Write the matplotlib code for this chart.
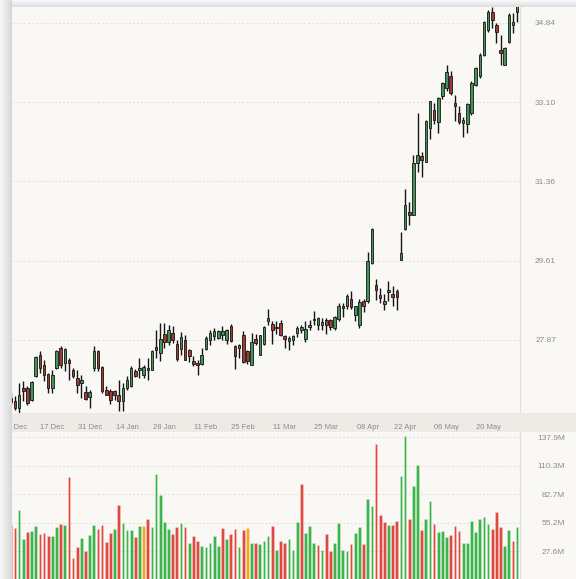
import numpy as np
import pandas as pd
import matplotlib
matplotlib.use("Agg")
import matplotlib.pyplot as plt

plt.rcParams["font.family"] = ["Liberation Sans", "DejaVu Sans"]

# NYSE trading days, 30 Nov 2018 -> 30 May 2019
holidays = ["2018-12-05", "2018-12-25", "2019-01-01", "2019-01-21",
            "2019-02-18", "2019-04-19", "2019-05-27"]
dates = pd.bdate_range("2018-11-30", "2019-05-30", freq="C", holidays=holidays)

opens = [26.60, 26.52, 26.38, 26.82, 26.82, 26.56, 27.07, 27.53, 27.31, 27.12,
         26.82, 27.26, 27.70, 27.37, 27.42, 27.20, 27.04, 26.93, 26.72, 26.62,
         27.26, 27.62, 27.27, 26.78, 26.76, 26.74, 26.67, 26.52, 26.82, 26.85,
         27.18, 27.22, 27.11, 27.26, 27.22, 27.71, 27.59, 28.01, 27.83, 28.02,
         27.79, 27.68, 27.87, 27.65, 27.41, 27.37, 27.34, 27.67, 27.88, 27.95,
         27.92, 27.99, 27.88, 28.17, 27.73, 27.70, 27.99, 27.62, 27.33, 27.89,
         27.55, 27.79, 28.28, 28.22, 28.15, 28.24, 27.95, 27.84, 27.88, 28.03,
         28.10, 27.90, 28.16, 28.33, 28.21, 28.20, 28.32, 28.31, 28.14, 28.34,
         28.61, 28.61, 28.76, 28.42, 28.21, 28.72, 28.72, 29.56, 29.08, 28.86,
         28.65, 28.92, 28.87, 28.95, 29.63, 30.31, 30.69, 30.62, 31.76, 31.92,
         31.79, 32.53, 32.92, 32.66, 33.23, 33.41, 33.66, 33.07, 32.86, 32.64,
         32.62, 32.86, 33.47, 33.66, 34.13, 34.68, 35.08, 34.79, 34.24, 33.91,
         34.42, 34.79, 35.08]
highs = [26.70, 26.63, 26.93, 26.96, 26.85, 26.96, 27.51, 27.62, 27.42, 27.15,
         27.22, 27.64, 27.73, 27.70, 27.48, 27.26, 27.20, 27.09, 26.85, 26.77,
         27.73, 27.66, 27.29, 26.85, 26.80, 26.78, 26.98, 26.93, 27.07, 27.29,
         27.23, 27.48, 27.32, 27.48, 27.64, 28.08, 28.24, 28.24, 28.19, 28.17,
         27.86, 28.04, 27.99, 27.67, 27.51, 27.44, 27.70, 27.95, 28.10, 28.13,
         28.10, 28.17, 28.11, 28.22, 27.77, 27.78, 28.06, 27.64, 28.02, 28.00,
         27.99, 28.17, 28.55, 28.28, 28.28, 28.32, 27.99, 27.95, 27.99, 28.17,
         28.21, 28.28, 28.32, 28.50, 28.37, 28.35, 28.35, 28.34, 28.39, 28.68,
         28.68, 28.87, 28.95, 28.62, 28.77, 28.76, 29.81, 30.33, 29.21, 29.01,
         28.89, 29.16, 29.05, 28.99, 30.25, 31.18, 30.91, 31.94, 32.85, 31.99,
         32.71, 33.13, 33.08, 33.20, 33.54, 33.92, 33.78, 33.25, 33.01, 32.77,
         33.08, 33.55, 33.87, 34.17, 34.88, 35.12, 35.19, 34.83, 34.57, 34.30,
         35.05, 35.05, 35.34]
lows = [26.45, 26.34, 26.27, 26.52, 26.45, 26.52, 27.06, 27.15, 26.96, 26.71,
        26.71, 27.24, 27.26, 27.18, 27.00, 27.04, 26.71, 26.60, 26.56, 26.38,
        27.18, 27.18, 26.71, 26.66, 26.47, 26.56, 26.30, 26.30, 26.78, 26.84,
        27.05, 27.04, 27.04, 27.00, 27.20, 27.48, 27.40, 27.70, 27.77, 27.81,
        27.40, 27.55, 27.42, 27.38, 27.29, 27.11, 27.31, 27.66, 27.77, 27.88,
        27.89, 27.88, 27.79, 27.82, 27.24, 27.48, 27.37, 27.35, 27.32, 27.77,
        27.53, 27.75, 28.20, 27.79, 28.01, 27.95, 27.70, 27.66, 27.77, 27.94,
        28.03, 27.82, 28.10, 28.20, 28.08, 28.09, 28.01, 28.10, 28.10, 28.29,
        28.37, 28.54, 28.55, 28.28, 28.13, 28.48, 28.68, 29.54, 28.74, 28.68,
        28.52, 28.72, 28.61, 28.52, 29.62, 30.28, 30.40, 30.61, 31.57, 31.46,
        31.77, 32.29, 32.62, 32.41, 33.17, 33.34, 33.25, 32.67, 32.62, 32.34,
        32.41, 32.81, 33.45, 33.62, 34.11, 34.64, 34.72, 34.39, 33.91, 33.90,
        34.40, 34.61, 34.86]
closes = [26.50, 26.38, 26.67, 26.74, 26.49, 26.94, 27.49, 27.26, 27.11, 26.82,
          27.11, 27.62, 27.33, 27.68, 27.37, 27.07, 26.89, 26.98, 26.58, 26.72,
          27.62, 27.26, 26.74, 26.67, 26.56, 26.67, 26.52, 26.82, 27.00, 27.26,
          27.07, 27.26, 27.27, 27.20, 27.62, 27.64, 27.89, 27.83, 28.08, 27.86,
          27.46, 27.93, 27.44, 27.51, 27.35, 27.31, 27.55, 27.92, 28.03, 28.06,
          28.06, 28.06, 28.10, 27.84, 27.51, 27.77, 27.38, 27.40, 27.82, 27.81,
          27.97, 28.16, 28.35, 28.10, 28.13, 27.99, 27.89, 27.92, 27.95, 28.14,
          28.16, 28.11, 28.21, 28.31, 28.35, 28.27, 28.19, 28.16, 28.38, 28.62,
          28.58, 28.83, 28.59, 28.61, 28.71, 28.62, 29.60, 30.31, 28.96, 28.79,
          28.72, 28.97, 28.81, 28.81, 29.78, 30.84, 30.62, 31.76, 31.94, 31.83,
          32.67, 33.11, 32.71, 33.18, 33.51, 33.76, 33.29, 33.01, 32.66, 32.71,
          33.06, 33.52, 33.85, 34.13, 34.86, 35.08, 34.90, 34.64, 34.17, 34.28,
          35.01, 34.86, 35.27]

# volume in millions; colour code g = up, r = down, o = flat
volumes = [53, 50, 68, 39, 46, 47, 52, 44, 45, 42,
           42, 51, 54, 53, 99, 21, 32, 40, 28, 43,
           53, 49, 53, 37, 45, 49, 72, 55, 48, 48,
           41, 52, 52, 59, 51, 102, 82, 56, 49, 44,
           51, 55, 51, 36, 42, 38, 33, 32, 36, 42,
           33, 50, 39, 44, 49, 32, 48, 50, 36, 36,
           35, 38, 42, 52, 29, 38, 36, 39, 29, 56,
           93, 45, 52, 36, 34, 29, 44, 28, 36, 55,
           29, 28, 35, 45, 51, 35, 78, 71, 131, 63,
           56, 53, 53, 57, 100, 139, 59, 91, 111, 48,
           59, 76, 54, 46, 47, 41, 43, 52, 47, 36,
           36, 57, 46, 59, 61, 54, 49, 66, 51, 33,
           48, 38, 51]
vol_dir = ("rrggrggrrr" "ggrgrrrgrg" "grrrrgrggg" "rgorgggggr" "rgrgrrgggg"
           "grgrrgrogr" "gggrgrrggg" "rgggrgrrgg" "ggrggrggrr" "rgrrggrggr"
           "ggrgggrrrg" "ggggggrrrg" "grg")

price_ticks = [27.87, 29.6125, 31.355, 33.0975, 34.84]
price_tick_labels = ["27.87", "29.61", "31.36", "33.10", "34.84"]
vol_ticks = [27.58, 55.16, 82.74, 110.32, 137.9]
vol_tick_labels = ["27.6M", "55.2M", "82.7M", "110.3M", "137.9M"]
date_ticks = ["2018-12-03", "2018-12-17", "2018-12-31", "2019-01-14", "2019-01-28",
              "2019-02-11", "2019-02-25", "2019-03-11", "2019-03-25", "2019-04-08",
              "2019-04-22", "2019-05-06", "2019-05-20"]

CARD = "#f9f8f5"
BAND = "#eeebe6"
GRID = "#e2dfda"
TXT = "#8c8c8c"
UP_BODY, DOWN_BODY = "#449459", "#a23b32"
VOL_COL = {"g": "#3db34b", "r": "#e0493f", "o": "#f5a623"}

W, H = 576, 579
STEP = 4.15          # pixels per trading day
X0 = 0.28            # index at the card's left edge


def box(x0, y0, x1, y1):
    return [x0 / W, 1 - y1 / H, (x1 - x0) / W, (y1 - y0) / H]


fig = plt.figure(figsize=(W / 100, H / 100), dpi=100, facecolor=CARD)

x = np.arange(len(dates))
o, h, l, c = map(np.array, (opens, highs, lows, closes))
up = c >= o

# ---- price panel
ax_p = fig.add_axes(box(12, 7, 519.5, 413))
ax_p.set_facecolor("none")
ax_p.vlines(x, l, h, color="#161616", lw=1.0, zorder=2)
ax_p.bar(x, np.maximum(np.abs(c - o), 0.015), bottom=np.minimum(o, c), width=0.62,
         color=np.where(up, UP_BODY, DOWN_BODY), edgecolor="#161616", linewidth=0.6,
         zorder=3)
ax_p.set_xlim(X0, X0 + 507.5 / STEP)
ax_p.set_ylim(26.266, 35.185)
ax_p.yaxis.tick_right()
ax_p.set_yticks(price_ticks, price_tick_labels, ha="right")
ax_p.tick_params(axis="y", length=0, pad=26.3, labelsize=6, labelcolor=TXT)
ax_p.set_xticks([])
ax_p.grid(axis="y", color=GRID, ls=(0, (2, 2)), lw=0.7)
ax_p.set_axisbelow(True)

# ---- volume panel
ax_v = fig.add_axes(box(12, 432, 519.5, 579.8))
ax_v.set_facecolor("none")
ax_v.bar(x, volumes, width=0.65, color=[VOL_COL[d] for d in vol_dir],
         edgecolor=(1, 1, 1, 0.45), linewidth=0.4, zorder=2)
ax_v.set_xlim(X0, X0 + 507.5 / STEP)
ax_v.set_ylim(0, 143.0)
ax_v.yaxis.tick_right()
ax_v.set_yticks(vol_ticks, vol_tick_labels, ha="right")
ax_v.tick_params(axis="y", length=0, pad=32.8, labelsize=6, labelcolor=TXT)
ax_v.set_xticks([])
ax_v.grid(axis="y", color=GRID, ls=(0, (2, 2)), lw=0.7)
ax_v.set_axisbelow(True)

for ax in (ax_p, ax_v):
    for side in ("top", "left", "bottom"):
        ax.spines[side].set_visible(False)
    ax.spines["right"].set_color(GRID)
    ax.spines["right"].set_linewidth(0.8)

# ---- date band
band = fig.add_axes(box(12, 413, 576, 432), zorder=5)
band.set_facecolor(BAND)
band.set_xlim(X0, X0 + 564 / STEP)
band.set_ylim(0, 1)
band.set_yticks([])
tick_pos = [dates.get_loc(pd.Timestamp(d)) for d in date_ticks]
band.set_xticks(tick_pos, [pd.Timestamp(d).strftime("%d %b") for d in date_ticks])
band.tick_params(axis="x", length=0, pad=-5.6, labelsize=5.5, labelcolor=TXT)
for s in band.spines.values():
    s.set_visible(False)

# ---- card shadow (left and top)
sh_left = fig.add_axes(box(0, 0, 12, H), zorder=10)
sh_left.imshow(np.linspace(0.97, 0.84, 12)[None, :], cmap="gray", vmin=0, vmax=1,
               aspect="auto")
sh_left.axis("off")
sh_top = fig.add_axes(box(0, 0, W, 7), zorder=9)
sh_top.imshow(np.linspace(0.97, 0.87, 7)[:, None], cmap="gray", vmin=0, vmax=1,
              aspect="auto")
sh_top.axis("off")

fig.savefig("out.png", dpi=100, facecolor=CARD)
